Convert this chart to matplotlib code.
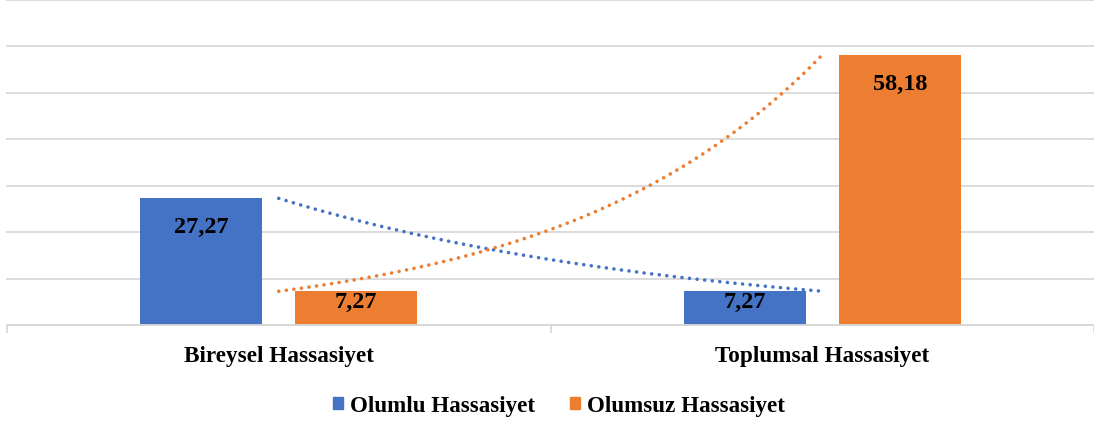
import numpy as np
import matplotlib.pyplot as plt
from matplotlib.patches import Patch

categories = ['Bireysel Hassasiyet', 'Toplumsal Hassasiyet']
olumlu = [27.27, 7.27]
olumsuz = [7.27, 58.18]
series_names = ['Olumlu Hassasiyet', 'Olumsuz Hassasiyet']
colors = ['#4472C4', '#ED7D31']

plt.rcParams['font.family'] = ['Liberation Serif', 'DejaVu Serif']
plt.rcParams['font.weight'] = 'bold'

fig = plt.figure(figsize=(10.94, 4.23), dpi=100)
ax = fig.add_axes([7 / 1094, 98 / 423, 1087 / 1094, 325 / 423])

x = np.arange(len(categories))
w = 0.224
off = 0.1425
for vals, sign, c in [(olumlu, -1, colors[0]), (olumsuz, 1, colors[1])]:
    bars = ax.bar(x + sign * off, vals, width=w, color=c, zorder=2)
    for b, v in zip(bars, vals):
        h_px = v * 325 / 70
        dy = min(19, h_px - 33)
        ax.annotate(f'{v:.2f}'.replace('.', ','),
                    (b.get_x() + b.get_width() / 2, v),
                    xytext=(0, -dy * 0.72), textcoords='offset points',
                    ha='center', va='top', fontsize=17.5, fontweight='bold',
                    color='black', zorder=4)

# exponential trendlines (Excel style)
t = np.linspace(0, 1, 200)
for vals, c in [(olumlu, colors[0]), (olumsuz, colors[1])]:
    k, a = np.polyfit(x, np.log(vals), 1)
    ax.plot(t, np.exp(a + k * t), color=c, lw=2.6,
            linestyle=(0, (0.01, 2.1)), dash_capstyle='round', zorder=3)

ax.set_xlim(-0.5, 1.5)
ax.set_ylim(0, 70)
ax.set_yticks(np.arange(0, 71, 10))
ax.yaxis.grid(True, color='#D9D9D9', lw=1.3, zorder=0)
ax.tick_params(axis='y', left=False, labelleft=False)
ax.set_xticks(x)
ax.set_xticklabels(categories, fontsize=16.7, fontweight='bold')
ax.tick_params(axis='x', which='major', length=0, pad=15)
ax.set_xticks([-0.5, 0.5, 1.5], minor=True)
ax.tick_params(axis='x', which='minor', length=6, color='#D9D9D9', width=1.3)
for s in ['top', 'right', 'left']:
    ax.spines[s].set_visible(False)
ax.spines['bottom'].set_color('#D9D9D9')
ax.spines['bottom'].set_linewidth(1.3)
for gl in ax.yaxis.get_gridlines():
    gl.set_clip_on(False)

handles = [Patch(color=c, label=n) for c, n in zip(colors, series_names)]
fig.legend(handles=handles, loc='center', bbox_to_anchor=(559 / 1094, 1 - 406 / 423),
           ncol=2, frameon=False, fontsize=16.6, handlelength=0.45, handleheight=0.45,
           handletextpad=0.3, columnspacing=1.5)

fig.savefig('out.png', dpi=100)
